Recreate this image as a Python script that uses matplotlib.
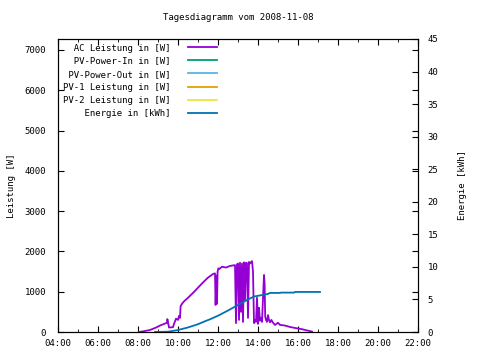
import matplotlib
matplotlib.use("Agg")
import matplotlib.pyplot as plt
from matplotlib.ticker import MultipleLocator, FuncFormatter

plt.rcParams['font.family'] = ['DejaVu Sans Mono']
plt.rcParams['font.size'] = 6.5

# AC Leistung [W] over time of day (hours)
ac_time = [8.05, 8.3, 8.6, 8.9, 9.1, 9.3, 9.45, 9.47, 9.55, 9.75, 9.8, 9.9, 10.0, 10.05, 10.1,
           10.13, 10.2, 10.3, 10.5, 10.75, 11.0, 11.25, 11.5, 11.75, 11.85, 11.88, 11.92, 11.95,
           11.98, 12.02, 12.05, 12.2, 12.4, 12.6, 12.85, 12.9, 12.95, 13.0, 13.05, 13.1, 13.15,
           13.2, 13.25, 13.3, 13.35, 13.4, 13.45, 13.5, 13.55, 13.6, 13.7, 13.75, 13.8, 13.85,
           13.9, 13.95, 14.0, 14.05, 14.1, 14.15, 14.2, 14.3, 14.33, 14.36, 14.4, 14.45, 14.5,
           14.55, 14.6, 14.67, 14.75, 14.85, 15.0, 15.1, 15.2, 15.35, 15.6, 15.85, 16.2, 16.4,
           16.7]
ac_power = [0, 20, 50, 110, 160, 200, 230, 320, 110, 120, 200, 330, 300, 400, 350,
            640, 700, 760, 850, 970, 1100, 1230, 1350, 1440, 1455, 670, 1400, 700,
            1500, 1580, 1560, 1620, 1600, 1640, 1660, 220, 1680, 1700, 300, 1720, 500,
            1700, 250, 1730, 800, 1720, 1710, 350, 1740, 1700, 1760, 1500, 220, 300,
            250, 850, 200, 600, 280, 350, 250, 1415, 1200, 380, 300, 250, 420,
            300, 240, 300, 230, 175, 230, 175, 170, 160, 125, 100, 70, 45,
            10]

# Energie [kWh]
en_time = [8.85, 9.5, 10.0, 10.5, 11.0, 11.35, 11.6, 12.0, 12.5, 13.0, 13.5, 13.8, 14.25,
           14.5, 14.6, 15.1, 15.15, 15.8, 15.85, 17.1]
en_kwh = [0, 0.05, 0.3, 0.7, 1.2, 1.65, 1.95, 2.5, 3.3, 4.15, 5.0, 5.45, 5.7,
          5.85, 6.0, 6.0, 6.05, 6.05, 6.15, 6.15]

labels = ["AC Leistung in [W]", "PV-Power-In in [W]", "PV-Power-Out in [W]",
          "PV-1 Leistung in [W]", "PV-2 Leistung in [W]", "Energie in [kWh]"]
colors = ["#9400d3", "#009e73", "#56b4e9", "#e69f00", "#f0e442", "#0072b2"]

fig = plt.figure(figsize=(4.8, 3.6), dpi=100)
ax = fig.add_axes([58 / 480, 28 / 360, 360 / 480, 293 / 360])
ax2 = ax.twinx()

width = max(len(s) for s in labels)
padded = [s.rjust(width) for s in labels]

handles = []
h, = ax.plot(ac_time, ac_power, color=colors[0], lw=1.3, label=padded[0])
handles.append(h)
for i in range(1, 5):
    h, = ax.plot([], [], color=colors[i], lw=1.3, label=padded[i])
    handles.append(h)
h, = ax2.plot(en_time, en_kwh, color=colors[5], lw=1.3, label=padded[5])
handles.append(h)

ax.set_xlim(4, 22)
ax.set_ylim(0, 7273)
ax2.set_ylim(0, 45)

ax.xaxis.set_major_locator(MultipleLocator(2))
ax.xaxis.set_minor_locator(MultipleLocator(1))
ax.xaxis.set_major_formatter(FuncFormatter(lambda v, p: "%02d:00" % int(round(v))))
ax.yaxis.set_major_locator(MultipleLocator(1000))
ax2.yaxis.set_major_locator(MultipleLocator(5))

ax.tick_params(axis='x', which='both', direction='in', top=True, length=4, pad=5)
ax.tick_params(axis='x', which='minor', length=2)
ax.tick_params(axis='y', direction='in', length=4, pad=8.5, right=True, labelright=False)
ax2.tick_params(axis='y', direction='in', length=4, pad=7)

ax.set_ylabel("Leistung [W]", labelpad=6)
ax2.set_ylabel("Energie [kWh]", labelpad=14)
fig.text(238 / 480, 1 - 18 / 360, "Tagesdiagramm vom 2008-11-08", ha='center', va='center')

ax.legend(handles=handles, loc='upper left', markerfirst=False, frameon=False,
          handlelength=3.2, handletextpad=2.0, labelspacing=0.45, borderaxespad=0.1,
          bbox_to_anchor=(0.0, 1.0), prop={'size': 6.5})

fig.savefig("out.png", dpi=100)
